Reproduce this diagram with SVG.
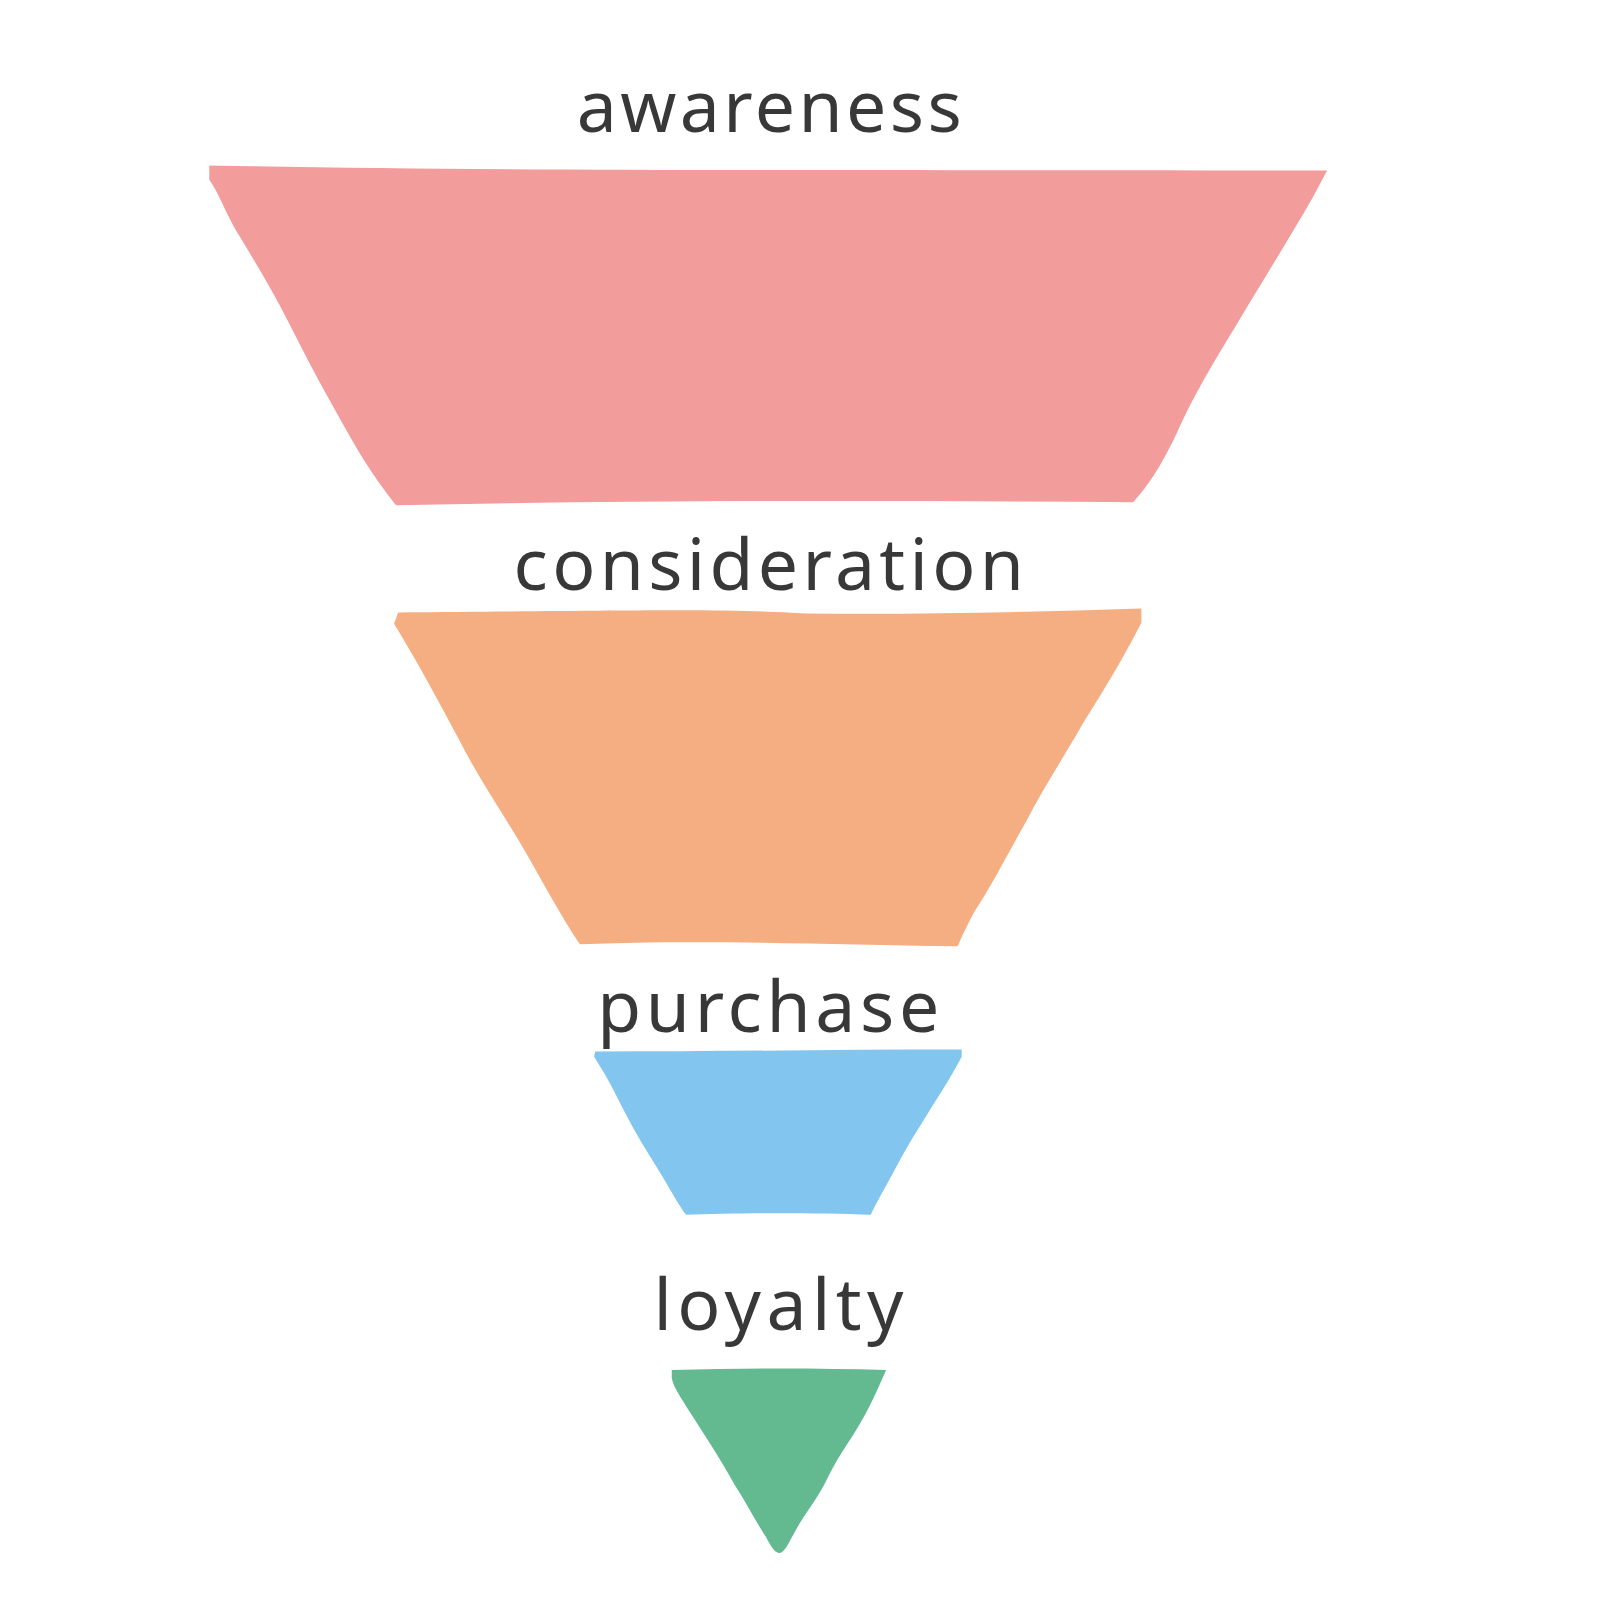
<svg xmlns="http://www.w3.org/2000/svg" width="1600" height="1600" viewBox="0 0 1600 1600">
<style>
.lbl{font-family:"Noto Sans","DejaVu Sans",sans-serif;font-size:70px;fill:#383838}
</style>
<rect width="1600" height="1600" fill="#ffffff"/>
<g transform="scale(1.0209)">
<g id="awareness-band">
<path fill="#F39C9C" d="M205,162 C500,168 800,166 1300,167 L1285,195 C1265,230 1240,270 1210,320 C1190,353 1170,385 1150,430 C1135,460 1125,475 1110,492 C850,490 600,490 388,495 C375,478 365,465 350,440 C330,405 310,370 290,330 C270,290 255,265 235,232 C220,207 215,190 205,176 Z"/>
</g>
<g id="consideration-band">
<path fill="#F5AE82" d="M390,600 C650,598 700,596 790,601 C900,602 1000,600 1118,596 L1118,610 C1100,645 1085,670 1060,710 C1040,745 1020,775 1005,805 C985,840 970,870 955,892 C948,905 943,915 938,927 C800,925 680,920 568,925 C550,898 535,870 515,835 C495,800 470,765 450,725 C430,688 410,650 386,611 Z"/>
</g>
<g id="purchase-band">
<path fill="#82C6EF" d="M583,1030 C700,1030 820,1028 942,1028 L942,1035 C930,1058 915,1080 900,1105 C885,1128 875,1150 862,1172 C858,1180 855,1185 853,1190 C800,1188 720,1188 672,1190 C662,1176 655,1162 640,1138 C625,1115 612,1090 600,1066 C594,1054 588,1045 582,1035 Z"/>
</g>
<g id="loyalty-band">
<path fill="#64BA90" d="M658,1342 C730,1340 800,1340 868,1342 C860,1360 855,1372 845,1390 C835,1408 822,1425 812,1445 C800,1470 790,1480 780,1498 C772,1512 770,1518 765,1521 C760,1522 757,1518 750,1505 C740,1490 730,1470 720,1455 C705,1428 690,1405 675,1382 C668,1370 660,1360 658,1350 Z"/>
</g>
<g id="labels">
<text class="lbl" x="565" y="129" textLength="377" lengthAdjust="spacing">awareness</text>
<text class="lbl" x="503" y="578" textLength="500" lengthAdjust="spacing">consideration</text>
<text class="lbl" x="585" y="1011" textLength="335" lengthAdjust="spacing">purchase</text>
<text class="lbl" x="640" y="1303" textLength="245" lengthAdjust="spacing">loyalty</text>
</g>
<g id="connectors"></g>
</g>
</svg>
